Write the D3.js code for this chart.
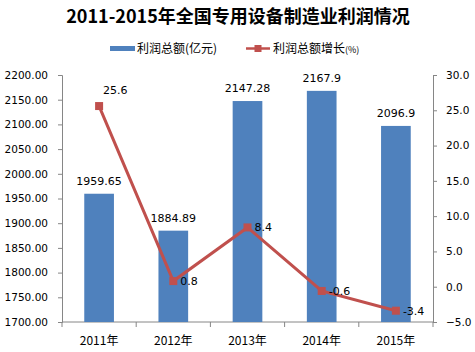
<!DOCTYPE html>
<html lang="zh">
<head>
<meta charset="UTF-8">
<title>专用设备制造业利润</title>
<script src="https://d3js.org/d3.v7.min.js"></script>
<style>
  * { margin: 0; padding: 0; box-sizing: border-box; }
  body { background: #fff; font-family: "Noto Sans CJK SC", "DejaVu Sans", sans-serif; }
</style>
</head>
<body>
<div id="chart"></div>
<script>
// data
const years = ["2011年", "2012年", "2013年", "2014年", "2015年"];
const profit = [1959.65, 1884.89, 2147.28, 2167.9, 2096.9];
const growth = [25.6, 0.8, 8.4, -0.6, -3.4];
const leftTicks = [1700, 1750, 1800, 1850, 1900, 1950, 2000, 2050, 2100, 2150, 2200];
const rightTicks = [-5, 0, 5, 10, 15, 20, 25, 30];

const W = 475, H = 352;
const plot = { left: 62, right: 433, top: 75, bottom: 322 };
const blue = "#4F81BD", red = "#C0504D";

const svg = d3.select("#chart").append("svg")
    .attr("width", W).attr("height", H);

svg.append("rect").attr("width", W).attr("height", H).attr("fill", "#fff");

const x = d3.scaleBand().domain(years).range([plot.left, plot.right]).paddingInner(0.6).paddingOuter(0.3);
const xc = d3.scaleBand().domain(years).range([plot.left, plot.right]);
const yL = d3.scaleLinear().domain([1700, 2200]).range([plot.bottom, plot.top]);
const yR = d3.scaleLinear().domain([-5, 30]).range([plot.bottom, plot.top]);

// title
svg.append("text")
    .attr("x", 238).attr("y", 23)
    .attr("text-anchor", "middle")
    .style("font-size", "18px").style("font-weight", "bold")
    .style("font-family", "'Noto Sans CJK SC', sans-serif")
    .text("2011-2015年全国专用设备制造业利润情况");

// legend
const lg = svg.append("g").style("font-size", "12px");
lg.append("rect").attr("x", 110).attr("y", 46).attr("width", 25).attr("height", 5).attr("fill", blue);
lg.append("text").attr("x", 137).attr("y", 53).text("利润总额(亿元)");
lg.append("line").attr("x1", 246).attr("x2", 270).attr("y1", 48.5).attr("y2", 48.5)
    .attr("stroke", red).attr("stroke-width", 2.5);
lg.append("rect").attr("x", 254.5).attr("y", 45).attr("width", 7).attr("height", 7).attr("fill", red);
lg.append("text").attr("x", 273).attr("y", 53).text("利润总额增长");
lg.append("text").attr("x", 345).attr("y", 53).style("font-size", "9px").text("(%)");

const axisStyle = g => {
  g.selectAll("path, line").attr("stroke", "#868686");
  g.selectAll("text").style("font-size", "10.5px").attr("fill", "#000")
    .style("font-family", "'DejaVu Sans', sans-serif");
};

// left axis
svg.append("g").attr("transform", `translate(${plot.left},0)`)
  .call(d3.axisLeft(yL).tickValues(leftTicks).tickFormat(d3.format(".2f")).tickSize(4).tickPadding(10))
  .call(axisStyle);

// right axis
svg.append("g").attr("transform", `translate(${plot.right},0)`)
  .call(d3.axisRight(yR).tickValues(rightTicks).tickFormat(d3.format(".1f")).tickSize(4).tickPadding(9))
  .call(axisStyle);

// bottom axis: ticks on category boundaries
const bx = svg.append("g").attr("transform", `translate(0,${plot.bottom})`);
bx.append("line").attr("x1", plot.left).attr("x2", plot.right).attr("stroke", "#868686");
bx.selectAll(".tk").data(years).join("line")
  .attr("x1", d => xc(d)).attr("x2", d => xc(d)).attr("y1", 0).attr("y2", 5)
  .attr("stroke", "#868686");
bx.append("line").attr("x1", plot.right).attr("x2", plot.right).attr("y1", 0).attr("y2", 5).attr("stroke", "#868686");
bx.selectAll(".lbl").data(years).join("text")
  .attr("x", d => xc(d) + xc.bandwidth() / 2).attr("y", 23)
  .attr("text-anchor", "middle").style("font-size", "12px")
  .text(d => d);

// bars
svg.selectAll(".bar").data(profit).join("rect")
  .attr("x", (d, i) => x(years[i]))
  .attr("y", d => yL(d))
  .attr("width", x.bandwidth())
  .attr("height", d => plot.bottom - yL(d))
  .attr("fill", blue);

svg.selectAll(".barlbl").data(profit).join("text")
  .attr("x", (d, i) => x(years[i]) + x.bandwidth() / 2)
  .attr("y", d => yL(d) - 9)
  .attr("text-anchor", "middle").style("font-size", "11px")
  .style("font-family", "'DejaVu Sans', sans-serif")
  .text(d => d);

// growth line
const cx = i => xc(years[i]) + xc.bandwidth() / 2;
svg.append("path").datum(growth)
  .attr("d", d3.line().x((d, i) => cx(i)).y(d => yR(d)))
  .attr("fill", "none").attr("stroke", red).attr("stroke-width", 3);

svg.selectAll(".mk").data(growth).join("rect")
  .attr("x", (d, i) => cx(i) - 4).attr("y", d => yR(d) - 4)
  .attr("width", 8).attr("height", 8).attr("fill", red);

svg.selectAll(".glbl").data(growth).join("text")
  .attr("x", (d, i) => i === 0 ? cx(i) + 4 : cx(i) + 7)
  .attr("y", (d, i) => i === 0 ? yR(d) - 12 : yR(d) + 4)
  .style("font-size", "11px")
  .style("font-family", "'DejaVu Sans', sans-serif")
  .text(d => d.toFixed(1).replace(/\.0$/, ""));
</script>
</body>
</html>
